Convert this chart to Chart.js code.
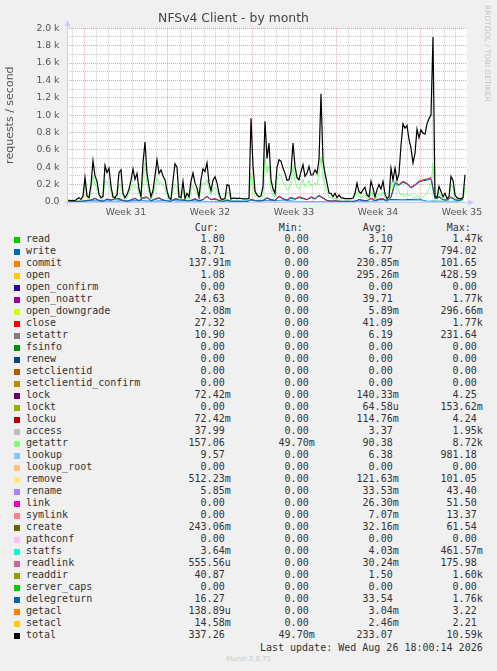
<!DOCTYPE html>
<html>
<head>
<meta charset="utf-8">
<script src="https://cdn.jsdelivr.net/npm/chart.js"></script>
<style>
body{margin:0;background:#f0f0f0;width:497px;height:671px;overflow:hidden;position:relative;}
#chart{position:absolute;left:0;top:0;}
.row{position:absolute;left:0;width:497px;height:12px;line-height:12px;font-family:"DejaVu Sans Mono",monospace;font-size:10px;color:#333;white-space:pre;}
.row span{position:absolute;top:0;}
.sq{position:absolute;left:14px;top:4px;width:6px;height:6px;}
#rrd{position:absolute;left:483px;top:5px;writing-mode:vertical-rl;font-family:"DejaVu Sans",sans-serif;font-size:7.5px;color:#c4c4c4;white-space:nowrap;}
#munin{position:absolute;left:0;width:497px;top:655px;text-align:center;font-family:"DejaVu Sans",sans-serif;font-size:6.8px;color:#c8c8c8;}
</style>
</head>
<body>
<canvas id="chart" width="497" height="222"></canvas>
<div id="rrd">RRDTOOL / TOBI OETIKER</div>
<div id="legend"></div>
<div id="munin">Munin 2.0.75</div>
<script>
// ---------------- data ----------------
const weekLabels = ["Week 31", "Week 32", "Week 33", "Week 34", "Week 35"];

// samples every 4 hours
const total = [
  20,20,15,20,15,35,50,30,70,280,
  70,50,200,475,300,240,90,50,65,420,
  340,390,180,60,50,85,340,370,100,50,
  85,150,250,380,260,330,150,65,450,690,
  330,180,60,130,300,486,330,370,300,256,
  130,50,30,250,440,400,60,50,237,40,
  100,60,240,333,220,160,60,260,380,350,
  450,220,130,250,290,220,100,35,30,40,
  199,190,35,45,45,40,45,40,35,35,
  35,40,965,420,125,80,60,70,180,930,
  500,678,256,150,100,400,486,470,390,330,
  250,256,350,678,410,280,256,350,429,295,
  330,410,310,314,371,330,486,1245,470,330,
  218,103,100,60,100,50,80,50,45,40,
  40,40,40,45,100,218,120,100,140,170,
  80,60,237,160,60,140,200,150,237,90,
  40,60,390,250,390,250,330,650,900,850,
  880,720,620,450,560,840,740,830,790,780,
  900,960,1000,1900,65,50,180,120,60,100,
  40,60,295,250,80,50,40,40,50,314
];
const getattr = [
  5,5,5,5,5,15,25,10,30,230,
  40,20,120,300,200,160,60,25,40,250,
  220,230,110,30,25,50,190,200,60,25,
  50,100,170,210,170,180,90,35,300,450,
  200,110,30,80,190,280,210,230,190,150,
  80,25,15,140,200,170,30,25,140,20,
  60,30,150,190,130,100,30,150,220,210,
  260,140,80,150,170,130,60,15,10,20,
  110,100,15,10,10,10,10,10,10,10,
  10,15,330,200,70,40,30,35,100,520,
  330,420,150,80,50,250,330,300,230,190,
  140,150,210,420,250,170,150,200,260,170,
  190,250,180,190,220,200,330,520,280,190,
  120,50,50,30,50,20,40,15,10,10,
  10,10,10,15,40,120,60,50,70,90,
  30,25,130,80,25,60,100,70,120,40,
  15,25,230,150,250,170,120,80,90,60,
  100,70,90,60,50,80,60,40,60,80,
  100,150,200,450,10,15,120,60,20,40,
  10,20,200,170,30,15,10,10,20,170
];
// samples every 8 hours
const close = [
  5,5,5,10,10,20,25,45,20,10,
  35,25,40,40,20,10,25,45,15,50,
  60,15,35,50,25,15,10,40,30,25,
  15,20,40,15,30,70,30,40,20,10,
  25,10,5,5,5,5,30,20,15,20,
  50,30,20,70,40,25,55,35,60,45,
  30,60,40,80,50,20,10,15,10,5,
  5,5,10,30,20,15,45,20,35,40,
  10,60,230,200,240,215,170,200,240,255,
  265,280,45,65,30,25,60,30,20,35
];
const delegreturn = [
  3,3,4,8,8,15,20,38,15,8,
  30,20,35,32,15,8,20,38,10,42,
  50,12,30,42,20,12,8,32,25,20,
  12,15,32,12,25,60,25,32,15,8,
  20,8,4,4,4,4,25,15,12,15,
  42,25,15,60,32,20,45,30,50,38,
  25,50,32,70,42,15,8,12,8,4,
  4,4,8,25,15,12,38,15,30,32,
  8,50,215,190,228,205,160,190,228,245,
  252,265,38,55,25,20,50,25,15,30
];
// samples every 16 hours
const write = [
  5,5,8,15,10,12,8,15,10,20,
  12,8,15,20,10,18,12,6,4,4,
  3,15,10,20,12,18,15,20,12,5,
  4,4,3,10,8,12,6,10,5,25,
  30,28,25,30,32,8,10,8,6,12
];
const lookup = [
  3,3,5,10,8,10,6,10,8,12,
  10,6,12,15,8,12,10,4,3,3,
  3,10,8,15,10,12,10,15,8,4,
  3,3,3,8,6,10,5,8,5,12,
  15,15,14,16,18,5,8,6,5,10
];

// legend table
const names = ["read","write","commit","open","open_confirm","open_noattr","open_downgrade","close","setattr","fsinfo","renew","setclientid","setclientid_confirm","lock","lockt","locku","access","getattr","lookup","lookup_root","remove","rename","link","symlink","create","pathconf","statfs","readlink","readdir","server_caps","delegreturn","getacl","setacl","total"];
const colors = ["#00CC00","#0066B3","#FF8000","#FFCC00","#330099","#990099","#CCFF00","#FF0000","#808080","#008F00","#00487D","#B35A00","#B38F00","#6B006B","#8FB300","#B30000","#BEBEBE","#80FF80","#80C9FF","#FFC080","#FFE680","#AA80FF","#EE00CC","#FF8080","#666600","#FFBFFF","#00FFCC","#CC6699","#999900","#00CC00","#0066B3","#FF8000","#FFCC00","#000000"];
const curVals = ["1.80","8.71","137.91m","1.08","0.00","24.63","2.08m","27.32","10.90","0.00","0.00","0.00","0.00","72.42m","0.00","72.42m","37.99","157.06","9.57","0.00","512.23m","5.85m","0.00","0.00","243.06m","0.00","3.64m","555.56u","40.87","0.00","16.27","138.89u","14.58m","337.26"];
const minVals = ["0.00","0.00","0.00","0.00","0.00","0.00","0.00","0.00","0.00","0.00","0.00","0.00","0.00","0.00","0.00","0.00","0.00","49.70m","0.00","0.00","0.00","0.00","0.00","0.00","0.00","0.00","0.00","0.00","0.00","0.00","0.00","0.00","0.00","49.70m"];
const avgVals = ["3.10","6.77","230.85m","295.26m","0.00","39.71","5.89m","41.09","6.19","0.00","0.00","0.00","0.00","140.33m","64.58u","114.76m","3.37","90.38","6.38","0.00","121.63m","33.53m","26.30m","7.07m","32.16m","0.00","4.03m","30.24m","1.50","0.00","33.54","3.04m","2.46m","233.07"];
const maxVals = ["1.47k","794.02","101.65","428.59","0.00","1.77k","296.66m","1.77k","231.64","0.00","0.00","0.00","0.00","4.25","153.62m","4.24","1.95k","8.72k","981.18","0.00","101.05","43.40","51.50","13.37","61.54","0.00","461.57m","175.98","1.60k","0.00","1.76k","3.22","2.21","10.59k"];
const lastUpdate = "Last update: Wed Aug 26 18:00:14 2026";

// ---------------- chart ----------------
const PLOT_DAYS = 400 / 12;      // graph span in days
const FIRST_DAY = 5 / 12;        // first midnight line
const GRID_MAJOR = "rgba(220,100,100,0.6)";
const GRID_MINOR = "rgba(150,150,150,0.5)";
const AXIS = "#c6ccf4";

function series(values, stepHours){
    return values.map((v, i) => ({ x: i * stepHours / 24, y: v }));
}

// drawn in munin order: first listed is painted first
const drawn = [
    { name: "write", data: series(write, 16) },
    { name: "close", data: series(close, 8) },
    { name: "getattr", data: series(getattr, 4) },
    { name: "lookup", data: series(lookup, 16) },
    { name: "delegreturn", data: series(delegreturn, 8) },
    { name: "total", data: series(total, 4) }
];

const dayTicks = [];
for (let j = 0; FIRST_DAY + j / 2 <= PLOT_DAYS; j++) dayTicks.push({ value: FIRST_DAY + j / 2 });

const muninPlugin = {
    id: "munin",
    beforeDraw(chart){
        const { ctx, chartArea: a } = chart;
        ctx.save();
        ctx.fillStyle = "#ffffff";
        ctx.fillRect(a.left, a.top, a.right - a.left, a.bottom - a.top);
        ctx.restore();
    },
    afterDatasetsDraw(chart){
        const { ctx, chartArea: a } = chart;
        const y0 = Math.round(chart.scales.y.getPixelForValue(0)) + 0.5;
        const x0 = Math.round(a.left) + 0.5;
        ctx.save();
        ctx.strokeStyle = AXIS;
        ctx.fillStyle = AXIS;
        ctx.lineWidth = 1;
        ctx.beginPath();
        ctx.moveTo(x0, y0 + 3);
        ctx.lineTo(x0, a.top - 5);
        ctx.moveTo(x0 - 3, y0);
        ctx.lineTo(a.right + 3, y0);
        ctx.stroke();
        ctx.beginPath();
        ctx.moveTo(x0 - 3, a.top - 2);
        ctx.lineTo(x0 + 3, a.top - 2);
        ctx.lineTo(x0, a.top - 8);
        ctx.closePath();
        ctx.fill();
        ctx.beginPath();
        ctx.moveTo(a.right + 1, y0 - 3);
        ctx.lineTo(a.right + 1, y0 + 3);
        ctx.lineTo(a.right + 7, y0);
        ctx.closePath();
        ctx.fill();
        ctx.restore();
    }
};

new Chart(document.getElementById("chart"), {
    type: "line",
    data: {
        datasets: drawn.map((s, k) => ({
            label: s.name,
            data: s.data,
            borderColor: colors[names.indexOf(s.name)],
            borderWidth: s.name === "total" ? 1.2 : 1,
            pointRadius: 0,
            fill: false,
            tension: 0,
            order: drawn.length - k
        }))
    },
    options: {
        responsive: false,
        animation: false,
        events: [],
        layout: { padding: { left: 0, right: 30, top: 0, bottom: 0 } },
        plugins: {
            legend: { display: false },
            tooltip: { enabled: false },
            title: {
                display: true,
                text: "NFSv4 Client - by month",
                color: "#444",
                font: { family: "DejaVu Sans", size: 12.4, weight: "normal" },
                padding: { top: 11, bottom: 2.4 }
            }
        },
        scales: {
            x: {
                type: "linear",
                min: 0,
                max: PLOT_DAYS,
                afterBuildTicks(scale){ scale.ticks = dayTicks.map(t => ({ value: t.value })); },
                afterFit(scale){ scale.height = 20; },
                ticks: {
                    autoSkip: false,
                    maxRotation: 0,
                    padding: 5,
                    color: "#555",
                    font: { family: "DejaVu Sans", size: 9.3 },
                    callback(v, j){
                        return j % 14 === 9 ? weekLabels[(j - 9) / 14] : "";
                    }
                },
                grid: {
                    drawTicks: false,
                    lineWidth: 1,
                    color(c){
                        const j = c.index;
                        if (j % 2) return "rgba(0,0,0,0)";
                        return (j % 14 === 2) ? GRID_MAJOR : GRID_MINOR;
                    }
                },
                border: { display: false, dash: [1, 1] }
            },
            y: {
                min: 0,
                max: 2000,
                afterFit(scale){ scale.width = 67; },
                ticks: {
                    stepSize: 100,
                    autoSkip: false,
                    padding: 7.5,
                    color: "#555",
                    font: { family: "DejaVu Sans", size: 9.3 },
                    callback(v){
                        if (v % 200) return "";
                        return v === 0 ? "0.0" : (v / 1000).toFixed(1) + " k";
                    }
                },
                grid: {
                    drawTicks: false,
                    lineWidth: 1,
                    color(c){ return c.tick.value % 200 ? GRID_MINOR : GRID_MAJOR; }
                },
                border: { display: false, dash: [1, 1] },
                title: {
                    display: true,
                    text: "requests / second",
                    color: "#555",
                    font: { family: "DejaVu Sans", size: 11 },
                    padding: { top: 4, bottom: 0 }
                }
            }
        }
    },
    plugins: [muninPlugin]
});

// ---------------- legend table ----------------
const legend = document.getElementById("legend");
const valueRight = [230.7, 314.7, 398.7, 482.7];
const headLeft = [194.7, 278.7, 362.7, 446.7];

function unitPad(s){ return /[0-9]$/.test(s) ? s + " " : s; }

function addRow(top){
    const row = document.createElement("div");
    row.className = "row";
    row.style.top = top + "px";
    legend.appendChild(row);
    return row;
}

function addSpan(row, text, left, right){
    const sp = document.createElement("span");
    sp.textContent = text;
    if (left !== null) sp.style.left = left + "px";
    else sp.style.right = (497 - right) + "px";
    row.appendChild(sp);
}

const head = addRow(222);
["Cur:", "Min:", "Avg:", "Max:"].forEach((h, c) => addSpan(head, h, headLeft[c], null));

names.forEach((name, k) => {
    const row = addRow(233.3 + 12 * k);
    const sq = document.createElement("div");
    sq.className = "sq";
    sq.style.background = colors[k];
    row.appendChild(sq);
    addSpan(row, name, 26, null);
    [curVals, minVals, avgVals, maxVals].forEach((col, c) => addSpan(row, unitPad(col[k]), null, valueRight[c]));
});

const upd = addRow(641.7);
addSpan(upd, lastUpdate, null, 482.7);
</script>
</body>
</html>
